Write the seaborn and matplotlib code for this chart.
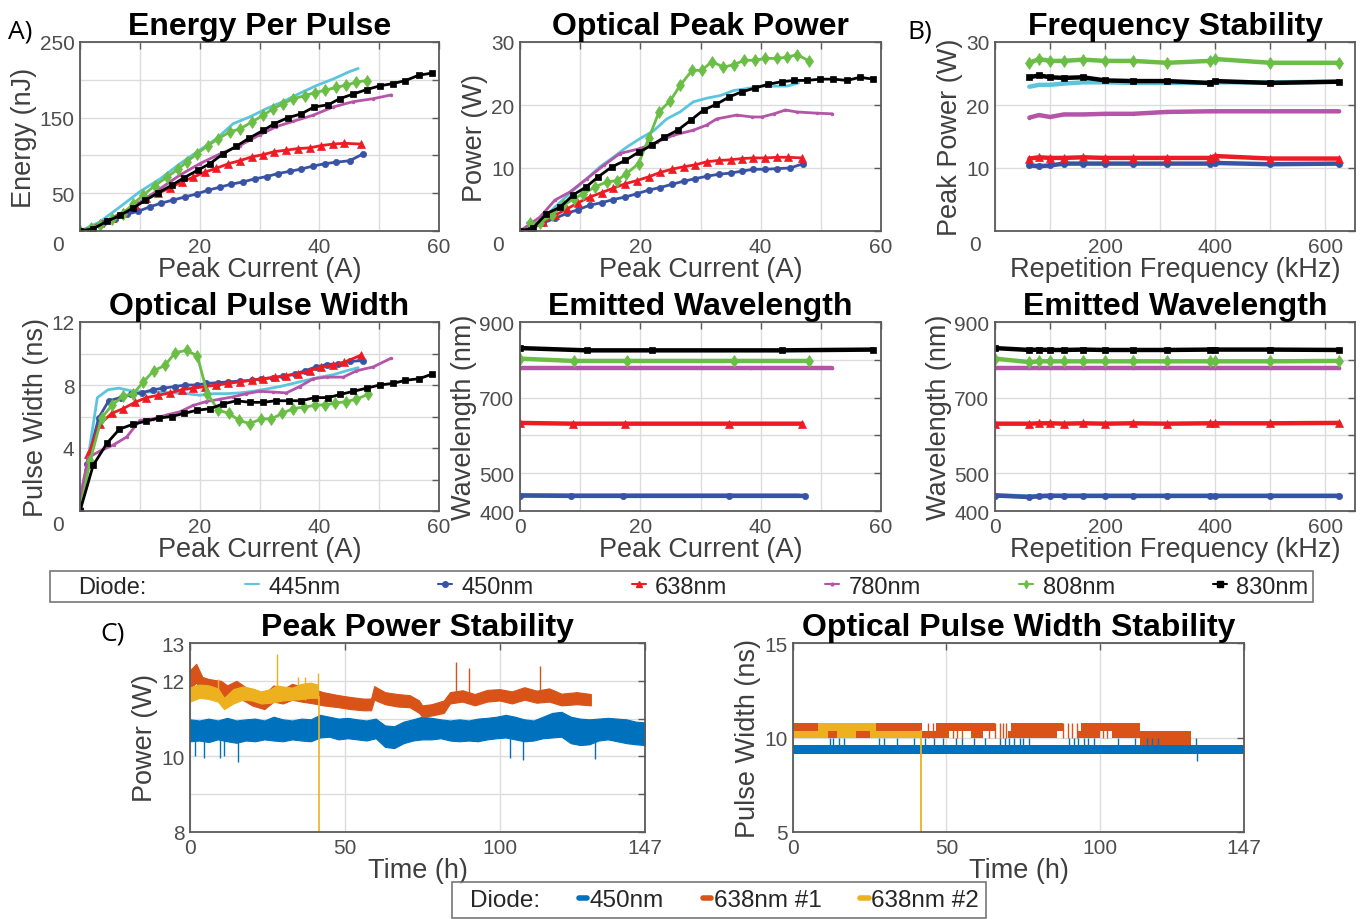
import matplotlib
matplotlib.use("Agg")
import matplotlib.pyplot as plt
import seaborn as sns
from matplotlib.lines import Line2D

# ---- diodes / styles ----
diodes = ["445nm", "450nm", "638nm", "780nm", "808nm", "830nm"]
colors = ["#5BC5DE", "#3853A4", "#ED1C24", "#B455A8", "#6ABD45", "#000000"]
markers = [None, "o", "^", ".", "d", "s"]
msizes = [0, 4.5, 6, 4, 6, 4.5]

# ---- Energy per pulse (A vs nJ) ----
epp_i_445 = [0, 3.3, 6.7, 10, 13.4, 16.7, 20, 22.8, 25.6, 28.4, 31.2, 33.9, 36.7, 39.4, 42.3, 45.1, 46.5]
epp_e_445 = [0, 12, 32, 52, 69, 89, 107, 122, 142, 151, 162, 171, 182, 192, 201, 211, 215]
epp_i_450 = [0, 1.9, 3.9, 5.8, 7.8, 9.7, 11.7, 13.6, 15.6, 17.5, 19.5, 21.4, 23.4, 25.3, 27.3, 29.2, 31.2, 33.1,
             35.1, 37, 39, 40.9, 42.8, 45.1, 47.3]
epp_e_450 = [0, 3, 10, 16, 22, 26, 32, 37, 41, 45, 49, 54, 58, 62, 65, 69, 72, 76, 79, 82, 86, 89, 91, 93, 102]
epp_i_638 = [0, 1.7, 3.3, 5.3, 7.2, 9.2, 11.1, 13.1, 15, 17, 18.9, 20.9, 22.8, 24.8, 26.7, 28.7, 30.6, 32.5,
             34.5, 36.4, 38.4, 40.3, 42.3, 44.2, 47]
epp_e_638 = [0, 3, 10, 17, 25, 34, 43, 50, 57, 65, 71, 78, 83, 89, 93, 98, 101, 105, 107, 109, 110, 113, 115, 116, 115]
epp_i_780 = [0, 3.3, 6.7, 10, 13.4, 16.7, 20, 23.4, 26.7, 30, 32.8, 35.6, 38.9, 42.3, 45.6, 49, 52]
epp_e_780 = [0, 7.5, 21, 38, 56, 74, 89, 102, 113, 127, 138, 145, 153, 164, 171, 175, 180]
epp_i_808 = [0, 1.8, 3.3, 5.3, 7.2, 8.9, 10.5, 12.5, 14.5, 16.4, 17.8, 19.5, 21.4, 23.1, 25, 26.7, 28.7, 30.6,
             32.3, 33.9, 35.6, 37.6, 39.2, 40.9, 42.8, 44.5, 46.2, 47.9]
epp_e_808 = [0, 4, 7.5, 16, 23, 36, 47, 60, 71, 82, 91, 102, 113, 122, 131, 135, 144, 153, 162, 168, 175, 179,
             183, 186, 190, 193, 197, 199]
epp_i_830 = [0, 2.2, 4.5, 6.7, 8.8, 10.9, 13.1, 15.3, 17.4, 19.8, 21.7, 23.9, 26.1, 28.3, 30.6, 32.5, 34.8, 37,
             39.1, 41.5, 43.4, 45.6, 47.9, 50.1, 52.3, 54.4, 56.6, 58.9]
epp_e_830 = [0, 3, 12.8, 20.7, 30, 40.5, 50.7, 60.4, 70.5, 81, 89, 102, 112, 123, 133, 142, 150, 155, 164, 167,
             175, 181, 187, 192, 195, 199, 206, 209]

# ---- Optical peak power (A vs W) ----
opp_i_445 = [1.2, 2.8, 4.4, 6.7, 8.9, 11.1, 13.3, 15.5, 17.7, 20, 22.2, 24.4, 26.6, 28.8, 31.1, 33.3, 35.5, 37.7,
             39.9, 42.2, 44.4, 46.3]
opp_p_445 = [1.3, 1.3, 2.5, 4.6, 6.5, 8.3, 10.2, 11.7, 13.3, 14.7, 15.9, 17.8, 18.9, 20.5, 21.1, 21.5, 22.3, 22.6,
             23, 23, 23, 23.5]
opp_i_450 = [0, 1.9, 3.9, 5.8, 7.8, 9.7, 11.6, 13.6, 15.5, 17.5, 19.4, 21.4, 23.3, 25.2, 27.2, 29.1, 31.1, 33, 35,
             36.9, 38.8, 40.8, 42.7, 44.9, 47.1]
opp_p_450 = [0, 0.4, 1.3, 2, 2.8, 3.4, 4.1, 4.5, 5, 5.4, 5.9, 6.5, 6.9, 7.4, 7.9, 8.3, 8.7, 9, 9.2, 9.5, 9.8, 9.8,
             9.9, 10, 10.7]
opp_i_638 = [0, 1.9, 3.9, 5.8, 7.8, 9.7, 11.6, 13.6, 15.5, 17.5, 19.4, 21.4, 23.3, 25.2, 27.2, 29.1, 31.1, 33, 35,
             36.9, 38.8, 40.8, 42.7, 44.6, 46.9]
opp_p_638 = [0, 0.4, 1.4, 2.5, 3.5, 4.5, 5.4, 6.1, 6.8, 7.5, 8, 8.6, 9.3, 9.8, 10.2, 10.5, 11, 11.2, 11.3, 11.5,
             11.6, 11.6, 11.7, 11.7, 11.6]
opp_i_780 = [0, 3.3, 5.8, 8.3, 11.1, 13.9, 16.6, 20, 22.7, 25.5, 28.8, 31, 32.7, 36, 38.6, 40.2, 42.2, 44.1, 46,
             49.4, 51.9]
opp_p_780 = [0, 2.2, 4.9, 6.2, 8.3, 10.4, 12.3, 13.1, 14.1, 15.2, 16, 16.8, 17.8, 18.4, 18.1, 18.1, 18.6, 19.2,
             18.9, 18.7, 18.6]
opp_i_808 = [1.7, 3.3, 5.3, 7.2, 8.9, 10.5, 12.5, 14.4, 16.1, 17.7, 19.7, 21.4, 23.1, 25, 26.6, 28.6, 30.2, 31.9,
             33.8, 35.5, 37.3, 39.1, 40.8, 42.7, 44.4, 46.1, 48]
opp_p_808 = [1.2, 1.3, 2.5, 4.1, 5.1, 5.9, 7, 7.8, 8, 9.1, 10.7, 14.7, 18.9, 20.7, 23.1, 25.5, 25.5, 26.9, 26,
             26.4, 27.1, 27.1, 27.4, 27.4, 27.6, 28, 27]
opp_i_830 = [0, 2.2, 4.4, 6.7, 8.8, 11, 13, 15.3, 17.5, 19.7, 21.9, 24, 26.2, 28.4, 30.5, 32.6, 34.8, 36.9, 39.1,
             41.3, 43.5, 45.6, 47.7, 49.9, 52.1, 54.4, 56.5, 58.7]
opp_p_830 = [0, 0.5, 2.75, 3.8, 5.7, 7, 8.6, 10.2, 11.2, 12.5, 13.6, 14.9, 16, 17.6, 19.2, 20.1, 21.3, 22.1, 22.7,
             23.3, 23.7, 23.9, 23.9, 24.1, 24.1, 23.9, 24.4, 24.1]

# ---- Frequency stability (kHz vs W) ----
fs_f = [62.5, 80, 100, 125, 160, 200, 250, 312.5, 390, 400, 500, 625]
fs_p_445 = [22.9, 23.2, 23.2, 23.4, 23.6, 23.6, 23.5, 23.5, 23.5, 23.6, 23.6, 23.7]
fs_p_450 = [10.4, 10.3, 10.4, 10.7, 10.7, 10.7, 10.7, 10.7, 10.7, 10.8, 10.6, 10.7]
fs_p_638 = [11.5, 11.7, 11.6, 11.6, 11.7, 11.6, 11.6, 11.6, 11.6, 11.9, 11.5, 11.5]
fs_p_780 = [18.0, 18.4, 18.1, 18.5, 18.5, 18.6, 18.6, 18.9, 19.0, 19.0, 19.0, 19.0]
fs_p_808 = [26.7, 27.3, 27.0, 27.0, 27.2, 27.0, 27.0, 26.7, 27.0, 27.3, 26.7, 26.7]
fs_p_830 = [24.4, 24.7, 24.4, 24.3, 24.4, 23.9, 23.8, 23.8, 23.5, 23.8, 23.5, 23.7]

# ---- Optical pulse width (A vs ns) ----
pw_i_445 = [0, 1.2, 2.9, 4.7, 6.5, 8.9, 11.1, 13.4, 15.6, 17.8, 20, 22.3, 24.5, 26.7, 28.9, 31.2, 33.4, 35.6,
            37.8, 40.1, 42.3, 44.5, 46.5]
pw_w_445 = [0.8, 3.0, 7.2, 7.7, 7.8, 7.6, 7.55, 7.55, 7.5, 7.45, 7.35, 7.45, 7.45, 7.5, 7.6, 7.75, 7.9, 8.1, 8.3,
            8.5, 8.65, 8.9, 9.1]
pw_i_450 = [0, 1.2, 3.1, 4.8, 6.8, 8.6, 10.3, 12.2, 13.9, 15.9, 17.5, 19.5, 21.1, 23.1, 24.8, 26.7, 28.7, 30.3,
            32.3, 33.9, 35.9, 37.6, 39.5, 41.2, 43.1, 45.1, 47.3]
pw_w_450 = [0.15, 3.0, 5.9, 7.0, 7.2, 7.4, 7.5, 7.7, 7.8, 7.9, 8.0, 8.0, 8.1, 8.15, 8.2, 8.25, 8.3, 8.4, 8.45, 8.55,
            8.7, 8.9, 9.15, 9.3, 9.35, 9.5, 9.55]
pw_i_638 = [0, 1.4, 3.3, 5.3, 7.2, 9.2, 11.1, 13.1, 15, 17, 18.9, 20.9, 22.8, 24.8, 26.7, 28.7, 30.6, 32.6, 34.5,
            36.5, 38.4, 40.3, 42.3, 44.2, 47]
pw_w_638 = [0, 3.6, 5.5, 6.2, 6.5, 6.9, 7.2, 7.35, 7.5, 7.7, 7.8, 7.9, 8.0, 8.1, 8.2, 8.3, 8.4, 8.5, 8.6, 8.7, 8.9,
            9.15, 9.25, 9.45, 9.9]
pw_i_780 = [0, 1.4, 3.3, 5.6, 7.8, 10, 12.2, 14.5, 16.7, 18.9, 21.1, 23.4, 25.6, 27.8, 30, 32.3, 34.5, 36.7, 39,
            41.2, 44, 46.2, 49, 52]
pw_w_780 = [0.8, 3.4, 3.8, 4.2, 4.7, 5.75, 5.85, 6.1, 6.3, 6.7, 6.95, 7.1, 7.25, 7.45, 7.6, 7.55, 7.5, 7.9, 8.4,
            8.5, 8.5, 8.9, 9.15, 9.7]
pw_i_808 = [0, 1.7, 3.6, 5.3, 7.2, 8.9, 10.6, 12.3, 14.2, 15.9, 17.8, 19.6, 21.3, 23.1, 24.9, 26.6, 28.4, 30.3,
            32, 33.8, 35.6, 37.4, 39.2, 40.9, 42.7, 44.5, 46.2, 48.1]
pw_w_808 = [0, 3.2, 5.9, 6.7, 7.3, 7.45, 8.2, 8.9, 9.25, 10.05, 10.2, 9.85, 7.45, 6.4, 6.2, 5.75, 5.55, 5.85, 5.85,
            6.2, 6.5, 6.6, 6.7, 6.75, 6.85, 6.95, 7.1, 7.4]
pw_i_830 = [0, 2.2, 4.5, 6.6, 8.8, 11, 13.2, 15.3, 17.4, 19.6, 21.8, 23.9, 26.2, 28.4, 30.6, 32.7, 34.9, 37, 39.2,
            41.5, 43.5, 45.7, 47.9, 50.1, 52.3, 54.4, 56.7, 58.9]
pw_w_830 = [0, 2.9, 4.3, 5.2, 5.5, 5.7, 5.9, 6.0, 6.2, 6.4, 6.5, 6.8, 7.0, 6.9, 6.9, 7.0, 7.0, 7.0, 7.2, 7.2, 7.4,
            7.6, 7.8, 8.0, 8.1, 8.3, 8.4, 8.7]

# ---- Emitted wavelength vs current (A vs nm) ----
wl_i_445 = [0, 8.6, 17.1, 34.3, 46.3]
wl_n_445 = [442, 441, 441, 441, 441]
wl_i_450 = [0, 8.5, 17.2, 34.8, 47.3]
wl_n_450 = [441, 440, 440, 440, 440]
wl_i_638 = [0, 8.8, 17.5, 34.7, 46.9]
wl_n_638 = [633, 631, 631, 631, 631]
wl_i_780 = [0, 9.5, 19.1, 38.4, 51.9]
wl_n_780 = [777, 777, 777, 777, 777]
wl_i_808 = [0, 8.9, 17.8, 35.5, 48]
wl_n_808 = [803, 797, 797, 797, 797]
wl_i_830 = [0, 11.1, 21.9, 43.5, 58.7]
wl_n_830 = [831, 825, 825, 825, 827]

# ---- Emitted wavelength vs frequency (kHz vs nm) ----
wf_f = [0, 62.5, 80, 100, 125, 160, 200, 250, 312.5, 390, 400, 500, 625]
wf_n_445 = [442, 438, 440, 441, 440, 440, 440, 440, 440, 440, 440, 440, 440]
wf_n_450 = [441, 437, 439, 440, 440, 440, 440, 440, 440, 440, 440, 440, 440]
wf_n_638 = [631, 631, 632, 632, 631, 632, 631, 632, 631, 632, 632, 632, 633]
wf_n_780 = [777, 777, 777, 777, 777, 777, 777, 777, 777, 777, 777, 777, 777]
wf_n_808 = [803, 794, 796, 796, 796, 796, 796, 796, 796, 796, 796, 796, 797]
wf_n_830 = [831, 826, 827, 826, 826, 827, 826, 826, 826, 827, 827, 827, 826]

# ---- Peak power stability (h vs W), noise envelopes ----
ps_t_450 = [0, 3, 6, 9, 12, 15, 18, 21, 24, 27, 30, 33, 36, 39, 42, 45, 48, 51, 54, 57, 60, 63, 66, 69, 72, 75,
            78, 81, 84, 87, 90, 93, 96, 99, 102, 105, 108, 111, 114, 117, 120, 123, 126, 129, 132, 135, 138, 141,
            144, 147]
ps_lo_450 = [10.40, 10.42, 10.38, 10.45, 10.40, 10.36, 10.42, 10.40, 10.45, 10.42, 10.40, 10.45, 10.42, 10.40,
             10.50, 10.52, 10.45, 10.48, 10.45, 10.42, 10.48, 10.25, 10.22, 10.35, 10.42, 10.45, 10.45, 10.48,
             10.42, 10.40, 10.42, 10.40, 10.45, 10.48, 10.50, 10.45, 10.40, 10.42, 10.48, 10.50, 10.52, 10.35,
             10.30, 10.32, 10.42, 10.45, 10.40, 10.35, 10.32, 10.30]
ps_hi_450 = [10.98, 10.95, 11.00, 10.95, 11.02, 10.95, 10.98, 11.00, 10.95, 11.05, 10.98, 10.95, 11.00, 10.98,
             11.10, 11.05, 11.00, 11.02, 10.98, 10.95, 11.00, 10.82, 10.80, 10.92, 10.98, 11.05, 11.02, 10.98,
             10.95, 10.98, 10.95, 11.00, 11.02, 11.05, 11.10, 11.05, 10.98, 10.95, 11.05, 11.15, 11.18, 11.05,
             11.00, 10.98, 11.00, 11.02, 11.00, 10.98, 10.92, 10.90]
ps_t_638a = [0, 2, 4, 6, 8, 10, 12, 15, 18, 20, 24, 27, 30, 33, 36, 40, 43, 48, 52, 56, 58.5, 59.5, 63, 67, 71,
             74, 75, 78, 82, 84, 88, 92, 96, 100, 104, 108, 112, 116, 120, 125, 129.5]
ps_lo_638a = [11.80, 11.95, 11.72, 11.65, 11.60, 11.60, 11.50, 11.58, 11.45, 11.35, 11.25, 11.45, 11.40, 11.50,
              11.45, 11.40, 11.35, 11.30, 11.25, 11.22, 11.22, 11.50, 11.38, 11.32, 11.30, 11.15, 11.05, 11.08,
              11.15, 11.40, 11.45, 11.35, 11.45, 11.48, 11.40, 11.50, 11.42, 11.45, 11.35, 11.38, 11.35]
ps_hi_638a = [12.28, 12.45, 12.10, 12.05, 12.02, 12.00, 11.88, 12.00, 11.83, 11.78, 11.65, 11.88, 11.78, 11.92,
              11.85, 11.78, 11.70, 11.62, 11.57, 11.53, 11.53, 11.86, 11.70, 11.65, 11.62, 11.48, 11.35, 11.38,
              11.48, 11.70, 11.75, 11.65, 11.76, 11.78, 11.72, 11.83, 11.74, 11.80, 11.66, 11.70, 11.65]
ps_t_638b = [0, 3, 6, 9, 11, 14, 17, 20, 23, 26, 28, 30, 33, 36, 39, 41.2]
ps_lo_638b = [11.45, 11.55, 11.52, 11.45, 11.25, 11.40, 11.50, 11.48, 11.40, 11.42, 11.45, 11.48, 11.50, 11.52,
              11.55, 11.55]
ps_hi_638b = [11.83, 11.90, 11.88, 11.80, 11.55, 11.78, 11.85, 11.80, 11.72, 11.78, 11.88, 11.85, 11.82, 11.92,
              11.95, 11.90]
ps_spk_t_450 = [1.5, 4.5, 9.6, 11, 15.4, 41.8, 103.4, 107.7, 130.7]
ps_spk_lo_450 = [10.0, 9.95, 9.95, 10.0, 9.85, 10.45, 9.95, 9.9, 9.92]
ps_spk_t_638a = [85.8, 90, 113.2]
ps_spk_hi_638a = [12.5, 12.35, 12.4]
ps_spk_t_638b = [9.2, 28.2, 35, 37, 41.2]
ps_spk_hi_638b = [12.05, 12.7, 12.1, 12.1, 12.2]
ps_drop_t_638b = [41.6]
ps_drop_lo_638b = [8.0]

# ---- Pulse width stability (h vs ns) ----
pws_t_450 = [0, 147]
pws_lo_450 = [9.15, 9.15]
pws_hi_450 = [9.6, 9.6]
pws_spk_t_450 = [12, 13, 15, 16.5, 28, 29.5, 34, 39.5, 43, 46, 49, 53, 55, 59, 62.5, 67.5, 69, 70.5, 72, 74, 75,
                 77, 90, 91.5, 93, 95, 96, 98, 106, 111.5, 115.5, 117, 119, 131.5]
pws_dip_t_450 = [131.8]
pws_dip_lo_450 = [8.75]
pws_up_t0_638a = [0, 46.5, 71, 94]
pws_up_t1_638a = [42, 66, 88, 113]
pws_tail_t_638a = [113, 129.6]
pws_tail_lo_638a = [9.6, 9.6]
pws_tail_hi_638a = [10.35, 10.35]
pws_low_t0_638a = [11.5, 20.5, 42, 58, 70, 93, 104]
pws_low_t1_638a = [14.5, 25, 51, 62, 86, 100, 113]
pws_hatch_t_638a = [44, 45.5, 52, 53.5, 55, 64, 66, 67.5, 68.5, 69.5, 88, 89.5, 91, 92.5, 101, 102.5]
pws_t0_638b = [0, 8, 27]
pws_t1_638b = [8, 27, 41.6]
pws_hi_638b = [10.35, 10.75, 10.35]
pws_drop_t_638b = [41.6]

stab_names = ["450nm", "638nm #1", "638nm #2"]
stab_colors = ["#0072BD", "#D95319", "#EDB120"]

# ---- theme ----
sns.set_theme(style="white")
plt.rcParams["font.family"] = ["Liberation Sans", "DejaVu Sans"]
TICK_C = "#4d4d4d"
LAB_C = "#3f3f3f"

fig = plt.figure(figsize=(13.67, 9.2), dpi=100)


def add_ax(x0, y0, x1, y1):
    W, H = 1367.0, 920.0
    return fig.add_axes([x0 / W, 1 - y1 / H, (x1 - x0) / W, (y1 - y0) / H])


def style(ax, xlim, xt, xtl, ylim, yt, ytl, title, xlabel, ylabel, corner0=None):
    ax.set_xlim(xlim)
    ax.set_ylim(ylim)
    ax.set_xticks(xt)
    ax.set_xticklabels(xtl)
    ax.set_yticks(yt)
    ax.set_yticklabels(ytl)
    ax.grid(True, color="#dcdcdc", lw=1.0)
    ax.set_axisbelow(True)
    ax.tick_params(direction="in", length=5, width=1.0, top=True, right=True,
                   colors="#5a5a5a", labelcolor=TICK_C, labelsize=15, pad=4)
    for s in ax.spines.values():
        s.set_color("#5a5a5a")
        s.set_linewidth(1.3)
        s.set_visible(True)
    ax.set_title(title, fontsize=23, fontweight="bold", color="black", pad=6)
    ax.set_xlabel(xlabel, fontsize=19.5, color=LAB_C, labelpad=0)
    ax.set_ylabel(ylabel, fontsize=19.5, color=LAB_C, labelpad=2)
    if corner0 is not None:
        ax.text(corner0[0], corner0[1], "0", transform=ax.transAxes, ha="center", va="center",
                fontsize=15, color=TICK_C)


def draw(ax, xs, ys, k, lw, ms_scale=1.0):
    sns.lineplot(x=xs, y=ys, ax=ax, color=colors[k], marker=markers[k],
                 markersize=msizes[k] * ms_scale, markeredgecolor=colors[k], markeredgewidth=0.5,
                 linewidth=lw, estimator=None, sort=False, legend=False)


cur_t = list(range(0, 61, 10))
cur_l = ["", "", "20", "", "40", "", "60"]

# A) energy per pulse
ax1 = add_ax(80, 43, 439, 232)
for k, (xs, ys) in enumerate([(epp_i_445, epp_e_445), (epp_i_450, epp_e_450), (epp_i_638, epp_e_638),
                              (epp_i_780, epp_e_780), (epp_i_808, epp_e_808), (epp_i_830, epp_e_830)]):
    draw(ax1, xs, ys, k, 2.0)
style(ax1, (0, 60), cur_t, cur_l, (0, 250), [0, 50, 100, 150, 200, 250], ["", "50", "", "150", "", "250"],
      "Energy Per Pulse", "Peak Current (A)", "Energy (nJ)", corner0=(-0.06, -0.07))

# optical peak power
ax2 = add_ax(520, 43, 881, 232)
for k, (xs, ys) in enumerate([(opp_i_445, opp_p_445), (opp_i_450, opp_p_450), (opp_i_638, opp_p_638),
                              (opp_i_780, opp_p_780), (opp_i_808, opp_p_808), (opp_i_830, opp_p_830)]):
    draw(ax2, xs, ys, k, 2.0)
style(ax2, (0, 60), cur_t, cur_l, (0, 30), [0, 10, 20, 30], ["", "10", "20", "30"],
      "Optical Peak Power", "Peak Current (A)", "Power (W)", corner0=(-0.06, -0.07))

# B) frequency stability
freq_t = list(range(0, 601, 100))
freq_l = ["", "", "200", "", "400", "", "600"]
ax3 = add_ax(995, 43, 1355, 232)
for k, ys in enumerate([fs_p_445, fs_p_450, fs_p_638, fs_p_780, fs_p_808, fs_p_830]):
    draw(ax3, fs_f, ys, k, 3.2)
style(ax3, (0, 654), freq_t, freq_l, (0, 30), [0, 10, 20, 30], ["", "10", "20", "30"],
      "Frequency Stability", "Repetition Frequency (kHz)", "Peak Power (W)", corner0=(-0.055, -0.07))

# optical pulse width
ax4 = add_ax(80, 323, 439, 512)
for k, (xs, ys) in enumerate([(pw_i_445, pw_w_445), (pw_i_450, pw_w_450), (pw_i_638, pw_w_638),
                              (pw_i_780, pw_w_780), (pw_i_808, pw_w_808), (pw_i_830, pw_w_830)]):
    draw(ax4, xs, ys, k, 2.0)
style(ax4, (0, 60), cur_t, cur_l, (0, 12), list(range(0, 13, 2)), ["", "", "4", "", "8", "", "12"],
      "Optical Pulse Width", "Peak Current (A)", "Pulse Width (ns)", corner0=(-0.06, -0.07))

# emitted wavelength vs current
wl_t = [400, 500, 600, 700, 800, 900]
wl_l = ["400", "500", "", "700", "", "900"]
ax5 = add_ax(520, 323, 881, 512)
for k, (xs, ys) in enumerate([(wl_i_445, wl_n_445), (wl_i_450, wl_n_450), (wl_i_638, wl_n_638),
                              (wl_i_780, wl_n_780), (wl_i_808, wl_n_808), (wl_i_830, wl_n_830)]):
    draw(ax5, xs, ys, k, 3.2, ms_scale=1.0)
style(ax5, (0, 60), cur_t, ["0", "", "20", "", "40", "", "60"], (400, 900), wl_t, wl_l,
      "Emitted Wavelength", "Peak Current (A)", "Wavelength (nm)")

# emitted wavelength vs frequency
ax6 = add_ax(995, 323, 1355, 512)
for k, ys in enumerate([wf_n_445, wf_n_450, wf_n_638, wf_n_780, wf_n_808, wf_n_830]):
    draw(ax6, wf_f, ys, k, 3.2, ms_scale=1.0)
style(ax6, (0, 654), freq_t, ["0", "", "200", "", "400", "", "600"], (400, 900), wl_t, wl_l,
      "Emitted Wavelength", "Repetition Frequency (kHz)", "Wavelength (nm)")

# top legend
h_top = [Line2D([], [], ls="none", label="Diode:")]
for d, c, m in zip(diodes, colors, markers):
    h_top.append(Line2D([], [], color=c, marker=m, ms=4, mec=c, lw=1.5, label=d))
leg = fig.legend(handles=h_top, loc="center", bbox_to_anchor=(50 / 1367, 1 - 602 / 920, 1263 / 1367, 29 / 920),
                 bbox_transform=fig.transFigure, ncol=7, mode="expand", frameon=True, fancybox=False,
                 edgecolor="#555555", fontsize=17, handlelength=0.6, handletextpad=0.4, borderpad=0.2,
                 borderaxespad=0)
leg.get_frame().set_linewidth(1.2)
leg.get_frame().set_facecolor("white")

# C) peak power stability
axc1 = add_ax(190, 644, 645, 833)
axc1.fill_between(ps_t_450, ps_lo_450, ps_hi_450, color=stab_colors[0], lw=0.8)
axc1.vlines(ps_spk_t_450, ps_spk_lo_450, 10.5, color=stab_colors[0], lw=1.0)
axc1.fill_between(ps_t_638a, ps_lo_638a, ps_hi_638a, color=stab_colors[1], lw=0.8)
axc1.vlines(ps_spk_t_638a, 11.6, ps_spk_hi_638a, color=stab_colors[1], lw=1.0)
axc1.fill_between(ps_t_638b, ps_lo_638b, ps_hi_638b, color=stab_colors[2], lw=0.8)
axc1.vlines(ps_spk_t_638b, 11.5, ps_spk_hi_638b, color=stab_colors[2], lw=1.0)
axc1.vlines(ps_drop_t_638b, ps_drop_lo_638b, 11.6, color=stab_colors[2], lw=1.2)
style(axc1, (0, 147), [0, 50, 100, 147], ["0", "50", "100", "147"], (8, 13), [8, 9, 10, 11, 12, 13],
      ["8", "", "10", "", "12", "13"], "Peak Power Stability", "Time (h)", "Power (W)")

# optical pulse width stability
axc2 = add_ax(793, 644, 1244, 833)
axc2.fill_between(pws_t_450, pws_lo_450, pws_hi_450, color=stab_colors[0], lw=0)
axc2.vlines(pws_spk_t_450, 9.5, 10.0, color=stab_colors[0], lw=1.0)
axc2.vlines(pws_dip_t_450, pws_dip_lo_450, 9.3, color=stab_colors[0], lw=1.0)
for a, b in zip(pws_up_t0_638a, pws_up_t1_638a):
    axc2.fill_between([a, b], [10.35, 10.35], [10.75, 10.75], color=stab_colors[1], lw=0)
axc2.fill_between(pws_tail_t_638a, pws_tail_lo_638a, pws_tail_hi_638a, color=stab_colors[1], lw=0)
for a, b, h in zip(pws_t0_638b, pws_t1_638b, pws_hi_638b):
    axc2.fill_between([a, b], [10.0, 10.0], [h, h], color=stab_colors[2], lw=0)
for a, b in zip(pws_low_t0_638a, pws_low_t1_638a):
    axc2.fill_between([a, b], [10.0, 10.0], [10.35, 10.35], color=stab_colors[1], lw=0)
axc2.vlines(pws_hatch_t_638a, 10.0, 10.75, color=stab_colors[1], lw=1.0)
sns.lineplot(x=pws_drop_t_638b * 2, y=[5.0, 10.35], ax=axc2, color=stab_colors[2], lw=1.3,
             estimator=None, sort=False, legend=False)
style(axc2, (0, 147), [0, 50, 100, 147], ["0", "50", "100", "147"], (5, 15), [5, 10, 15],
      ["5", "10", "15"], "Optical Pulse Width Stability", "Time (h)", "Pulse Width (ns)")

# bottom legend
h_bot = [Line2D([], [], ls="none", label="Diode:")]
for n, c in zip(stab_names, stab_colors):
    h_bot.append(Line2D([], [], color=c, lw=4, label=n))
leg2 = fig.legend(handles=h_bot, loc="center", bbox_to_anchor=(452 / 1367, 1 - 918 / 920, 534 / 1367, 34 / 920),
                  bbox_transform=fig.transFigure, ncol=4, mode="expand", frameon=True, fancybox=False,
                  edgecolor="#555555", fontsize=17.5, handlelength=0.35, handletextpad=0.1, borderpad=0.3,
                  borderaxespad=0)
leg2.get_frame().set_linewidth(1.2)
leg2.get_frame().set_facecolor("white")

# panel letters
for lab, x, y in [("A)", 8, 32), ("B)", 907, 32), ("C)", 100, 634)]:
    fig.text(x / 1367, 1 - y / 920, lab, fontsize=19, family=["Open Sans", "DejaVu Sans"], va="center",
             ha="left", color="black")

fig.savefig("out.png", dpi=100)
